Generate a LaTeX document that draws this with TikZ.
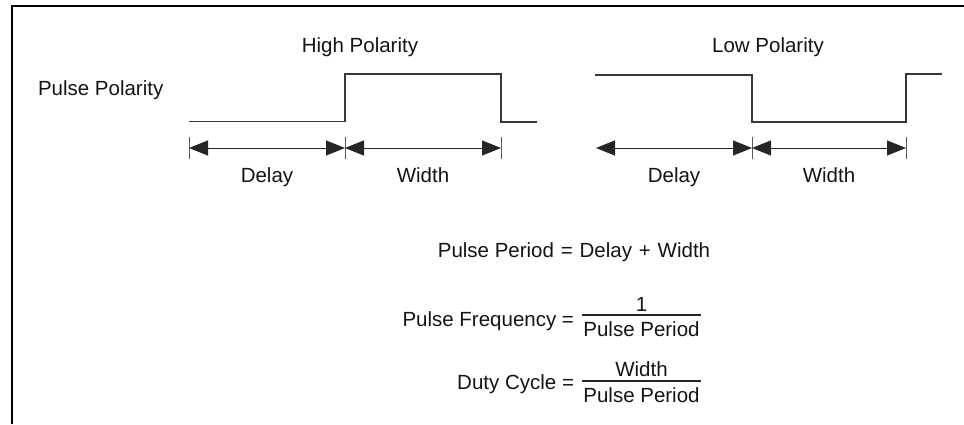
\documentclass[tikz,border=0pt]{standalone}
\usepackage{fontspec}
\setmainfont{Liberation Sans}
\usetikzlibrary{arrows.meta}
\begin{document}
\begin{tikzpicture}[x=1pt,y=-1pt,
  every node/.style={inner sep=0pt,outer sep=0pt,text=black!92,
    font=\fontsize{20.5}{24}\selectfont},
  frame/.style={line width=2pt,black},
  wave/.style={line width=1.3pt,black!78,line join=miter},
  tick/.style={line width=1pt,black!65},
  dim/.style={line width=1pt,black!85,{Triangle[length=19pt,width=15pt]}-{Triangle[length=19pt,width=15pt]}},
  onlyright/.style={line width=1pt,black!85,-{Triangle[length=19pt,width=15pt]}},
  bar/.style={line width=1.2pt,black!85}]
\useasboundingbox (0,0) rectangle (964,424);

% open frame: left and top edges
\draw[frame] (12,424) -- (12,6.3) -- (964,6.3);

% titles
\node[anchor=base west] (pp) at (38,95) {Pulse Polarity};
\node[anchor=base] (hp) at (360,52) {High Polarity};
\node[anchor=base] (lp) at (768,52) {Low Polarity};

% high polarity waveform
\draw[wave] (189,121.5) -- (345,121.5) -- (345,74) -- (501,74) -- (501,122) -- (537,122);
% low polarity waveform
\draw[wave] (595,75) -- (752,75) -- (752,122) -- (906,122) -- (906,74) -- (942,74);

% dimension ticks
\foreach \n/\x in {a/189,b/345,c/501,e/752,f/906}{
  \coordinate (t\n) at (\x,148);
  \draw[tick] (\x,137) -- (\x,159);
}
\coordinate (td) at (596,148);

% dimension arrows
\draw[dim] (ta) -- (tb);
\draw[dim] (tb) -- (tc);
\draw[dim] (td) -- (te);
\draw[dim] (te) -- (tf);

% dimension labels
\node[anchor=base] (d1) at (267,182) {Delay};
\node[anchor=base] (w1) at (423,182) {Width};
\node[anchor=base] (d2) at (674,182) {Delay};
\node[anchor=base] (w2) at (829,182) {Width};

% formulas
\node[anchor=base] (per) at (574,257) {Pulse Period\,\,=\,\,Delay\,\,+\,\,Width};

\node[anchor=base east] (freq) at (574,326) {Pulse Frequency =};
\coordinate (fb1) at (582,315);
\coordinate (fb2) at (701,315);
\draw[bar] (fb1) -- (fb2);
\node[anchor=base] (fnum) at (641.5,311) {1};
\node[anchor=base] (fden) at (641.5,336) {Pulse Period};

\node[anchor=base east] (duty) at (574,389) {Duty Cycle =};
\coordinate (db1) at (582,381);
\coordinate (db2) at (701,381);
\draw[bar] (db1) -- (db2);
\node[anchor=base] (dnum) at (641.5,376) {Width};
\node[anchor=base] (dden) at (641.5,402) {Pulse Period};
\end{tikzpicture}
\end{document}
